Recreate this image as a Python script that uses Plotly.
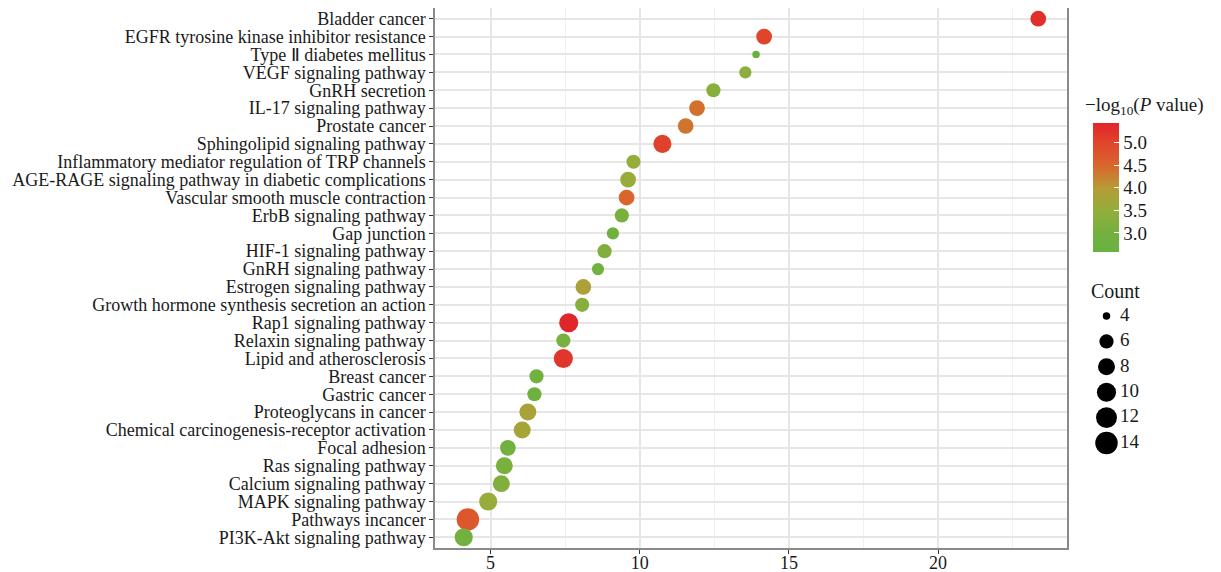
import numpy as np
import plotly.graph_objects as go

# ---------------- data ----------------
pathways = [
    "Bladder cancer",
    "EGFR tyrosine kinase inhibitor resistance",
    "Type Ⅱ diabetes mellitus",
    "VEGF signaling pathway",
    "GnRH secretion",
    "IL-17 signaling pathway",
    "Prostate cancer",
    "Sphingolipid signaling pathway",
    "Inflammatory mediator regulation of TRP channels",
    "AGE-RAGE signaling pathway in diabetic complications",
    "Vascular smooth muscle contraction",
    "ErbB signaling pathway",
    "Gap junction",
    "HIF-1 signaling pathway",
    "GnRH signaling pathway",
    "Estrogen signaling pathway",
    "Growth hormone synthesis secretion an action",
    "Rap1 signaling pathway",
    "Relaxin signaling pathway",
    "Lipid and atherosclerosis",
    "Breast cancer",
    "Gastric cancer",
    "Proteoglycans in cancer",
    "Chemical carcinogenesis-receptor activation",
    "Focal adhesion",
    "Ras signaling pathway",
    "Calcium signaling pathway",
    "MAPK signaling pathway",
    "Pathways incancer",
    "PI3K-Akt signaling pathway",
]
enrichment = [23.36, 14.17, 13.90, 13.54, 12.47, 11.92, 11.54, 10.76, 9.79, 9.61,
              9.56, 9.40, 9.10, 8.82, 8.60, 8.11, 8.07, 7.62, 7.44, 7.44,
              6.54, 6.47, 6.25, 6.06, 5.58, 5.46, 5.36, 4.92, 4.24, 4.10]
neg_log_p = [5.30, 5.00, 2.58, 3.40, 3.30, 4.40, 4.35, 5.05, 3.50, 3.55,
             4.50, 3.10, 2.85, 3.20, 2.90, 3.85, 3.30, 5.43, 3.10, 5.20,
             2.90, 2.80, 3.80, 3.75, 2.95, 3.10, 3.20, 3.55, 4.70, 3.00]
counts = [7, 7, 4, 5, 6, 7, 7, 9, 6, 7,
          7, 6, 5, 6, 5, 7, 6, 10, 6, 10,
          6, 6, 8, 8, 7, 8, 8, 9, 14, 9]

count_breaks = [4, 6, 8, 10, 12, 14]
color_ticks = [3.0, 3.5, 4.0, 4.5, 5.0]

# ---------------- styling helpers ----------------
FONT = "Liberation Serif"
TXT = "#1a1a1a"
DMIN, DMAX = 7.5, 22.5
cmin_count, cmax_count = min(counts), max(counts)


def dot_size(c):
    c = np.asarray(c, dtype=float)
    return DMIN + (DMAX - DMIN) * np.sqrt((c - cmin_count) / (cmax_count - cmin_count))


colorscale = [
    [0.00, "#67b23f"],
    [0.15, "#74b03f"],
    [0.32, "#93ae3c"],
    [0.50, "#b79a35"],
    [0.67, "#d9662d"],
    [0.85, "#e0442b"],
    [1.00, "#e1262b"],
]

# pixel geometry (page pixels; the page body adds an 8px offset)
OFF = 8
W, H = 1213, 564
PLOT_L, PLOT_R, PLOT_T, PLOT_B = 435, 1067, 8, 548   # page px
ML = PLOT_L - OFF
MT = PLOT_T - OFF
MB = (H + OFF) - PLOT_B
MR = 2
PW = W - ML - MR
PH = H - MT - MB


def px_x(p):
    return (p - OFF - ML) / PW


def px_y(p):
    return (PLOT_B - p) / PH


xmin, xmax = min(enrichment), max(enrichment)
span = xmax - xmin
xr = [xmin - 0.05 * span, xmax + 0.05 * span]
n = len(pathways)

fig = go.Figure()

fig.add_trace(go.Scatter(
    x=enrichment, y=pathways, mode="markers",
    marker=dict(
        size=dot_size(counts), color=neg_log_p, colorscale=colorscale,
        line=dict(width=0), opacity=1,
        colorbar=dict(
            x=px_x(1093), xanchor="left", xpad=0,
            y=px_y(187.5), yanchor="middle", ypad=0,
            len=129, lenmode="pixels", thickness=26, thicknessmode="pixels",
            outlinewidth=0,
            tickvals=color_ticks, ticktext=[f"{v:.1f}" for v in color_ticks],
            ticks="inside", tickcolor="white", ticklen=5, tickwidth=1,
            tickfont=dict(family=FONT, size=19, color=TXT),
        ),
    ),
    showlegend=False, hoverinfo="x+y",
))

# size legend (Count)
fig.add_trace(go.Scatter(
    x=[16.5] * len(count_breaks), y=[str(b) for b in count_breaks],
    mode="markers",
    marker=dict(size=dot_size(count_breaks), color="#000000", opacity=1, line=dict(width=0)),
    xaxis="x2", yaxis="y2", showlegend=False, hoverinfo="skip",
))
fig.add_trace(go.Scatter(
    x=[30] * len(count_breaks), y=[str(b) for b in count_breaks],
    mode="text", text=[str(b) for b in count_breaks], textposition="middle right",
    textfont=dict(family=FONT, size=19, color=TXT),
    xaxis="x2", yaxis="y2", showlegend=False, hoverinfo="skip",
))

grid = "#e6e6e6"
fig.update_layout(
    width=W, height=H,
    margin=dict(l=ML, r=MR, t=MT, b=MB, autoexpand=False),
    paper_bgcolor="white", plot_bgcolor="white",
    font=dict(family=FONT, size=18, color=TXT),
    xaxis=dict(
        domain=[0, px_x(PLOT_R)], range=xr, automargin=False,
        tick0=5, dtick=5, showgrid=True, gridcolor=grid, gridwidth=1.5,
        minor=dict(dtick=2.5, tick0=2.5, showgrid=True, gridcolor="#f0f0f0", gridwidth=1),
        ticks="outside", ticklen=4, tickcolor="#333", tickwidth=1,
        ticklabelstandoff=-6,
        showline=True, linecolor="#8a8a8a", linewidth=1.5, mirror=True,
        zeroline=False, tickfont=dict(family=FONT, size=18, color=TXT),
    ),
    yaxis=dict(
        type="category", categoryorder="array", categoryarray=pathways,
        tickmode="array", tickvals=pathways, ticktext=pathways,
        range=[n - 1 + 0.6, -0.6], automargin=False,
        showgrid=True, gridcolor=grid, gridwidth=1.5,
        ticks="outside", ticklen=4, tickcolor="#333", tickwidth=1,
        showline=True, linecolor="#8a8a8a", linewidth=1.5, mirror=True,
        zeroline=False, tickfont=dict(family=FONT, size=18, color=TXT),
    ),
    xaxis2=dict(domain=[px_x(1090), px_x(1210)], range=[0, 120], anchor="y2",
                visible=False, fixedrange=True),
    yaxis2=dict(domain=[px_y(455.7), px_y(303.3)], type="category",
                categoryorder="array", categoryarray=[str(b) for b in count_breaks],
                range=[len(count_breaks) - 0.5, -0.5], anchor="x2",
                visible=False, fixedrange=True),
    annotations=[
        dict(text="−log<sub>10</sub>(<i>P</i> value)", xref="paper", yref="paper",
             x=px_x(1083), y=px_y(106), xanchor="left", yanchor="middle",
             showarrow=False, font=dict(family=FONT, size=19, color=TXT)),
        dict(text="Count", xref="paper", yref="paper",
             x=px_x(1089), y=px_y(291), xanchor="left", yanchor="middle",
             showarrow=False, font=dict(family=FONT, size=20, color=TXT)),
    ],
)

fig.write_html("out.html")
